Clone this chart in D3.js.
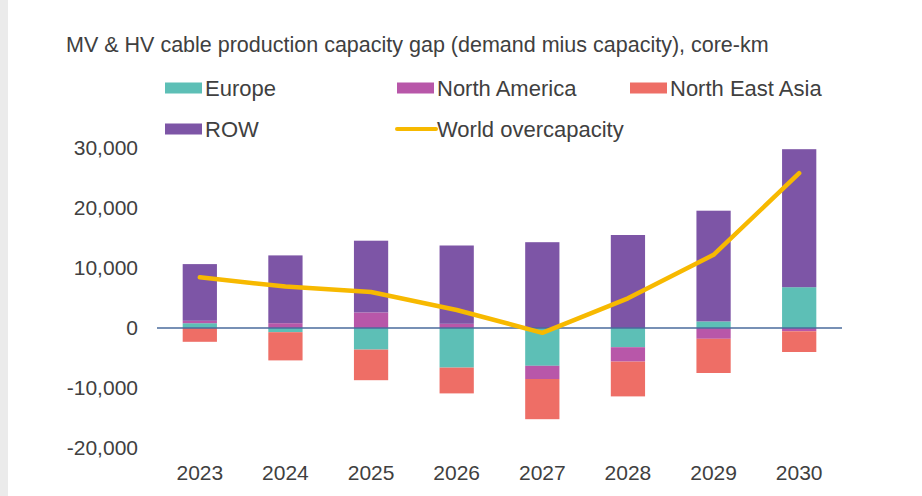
<!DOCTYPE html>
<html>
<head>
<meta charset="utf-8">
<script src="https://cdn.jsdelivr.net/npm/d3@7"></script>
<style>
  body { margin: 0; background: #fff; }
  svg { display: block; font-family: "Liberation Sans", Arial, sans-serif; }
</style>
</head>
<body>
<div id="chart"></div>
<script>
// data (core-km)
const years = ['2023', '2024', '2025', '2026', '2027', '2028', '2029', '2030'];
const europe = [800, -700, -3600, -6600, -6300, -3200, 1100, 6800];
const northAmerica = [400, 800, 2600, 700, -2200, -2400, -1800, -550];
const northEastAsia = [-2300, -4700, -5100, -4300, -6700, -5800, -5700, -3450];
const row = [9450, 11300, 11950, 13050, 14300, 15500, 18450, 23000];
const worldOvercapacity = [8450, 6900, 6000, 3000, -800, 4950, 12200, 25800];
const yTicks = [-20000, -10000, 0, 10000, 20000, 30000];

const seriesKeys = ['Europe', 'North America', 'North East Asia', 'ROW'];
const colors = {
    'Europe': '#5dbfb6',
    'North America': '#b857a9',
    'North East Asia': '#ee6e66',
    'ROW': '#7d55a6',
    'World overcapacity': '#f7b900'
};

const width = 922, height = 496;

const svg = d3.select('#chart').append('svg')
    .attr('width', width)
    .attr('height', height);

// grey strip at the left edge of the screenshot
svg.append('rect')
    .attr('x', 0).attr('y', 0)
    .attr('width', 8).attr('height', height)
    .attr('fill', '#ebebeb');

// Title
svg.append('text')
    .attr('x', 66)
    .attr('y', 52)
    .attr('fill', '#404040')
    .style('font-size', '21.5px')
    .text('MV & HV cable production capacity gap (demand mius capacity), core-km');

// Table for stacking
const table = years.map((y, i) => ({
    year: y,
    'Europe': europe[i],
    'North America': northAmerica[i],
    'North East Asia': northEastAsia[i],
    'ROW': row[i]
}));

const stacked = d3.stack()
    .keys(seriesKeys)
    .offset(d3.stackOffsetDiverging)(table);

// Scales
const x = d3.scaleBand()
    .domain(years)
    .range([157, 842])
    .paddingInner(0.6)
    .paddingOuter(0.3);

const y = d3.scaleLinear()
    .domain([-20000, 30000])
    .range([448, 148]);

// plain hyphen for negatives, like the original
const fmt = d => d3.format(',')(d).replace('\u2212', '-');

// Y axis labels (no line, no ticks)
const yAxis = svg.append('g')
    .attr('transform', 'translate(147,0)')
    .call(d3.axisLeft(y).tickValues(yTicks).tickSize(0).tickPadding(9)
        .tickFormat(fmt));
yAxis.select('.domain').remove();
yAxis.selectAll('text')
    .attr('fill', '#404040')
    .style('font-size', '21px')
    .style('font-family', '"Liberation Sans", Arial, sans-serif');

// X axis labels
const xAxis = svg.append('g')
    .attr('transform', 'translate(0,448)')
    .call(d3.axisBottom(x).tickSize(0).tickPadding(17));
xAxis.select('.domain').remove();
xAxis.selectAll('text')
    .attr('fill', '#404040')
    .style('font-size', '21px')
    .style('font-family', '"Liberation Sans", Arial, sans-serif');

// Bars
svg.append('g')
    .selectAll('g')
    .data(stacked)
    .join('g')
    .attr('fill', d => colors[d.key])
    .selectAll('rect')
    .data(d => d)
    .join('rect')
    .attr('x', d => x(d.data.year))
    .attr('width', x.bandwidth())
    .attr('y', d => y(Math.max(d[0], d[1])))
    .attr('height', d => Math.abs(y(d[0]) - y(d[1])));

// Zero line
svg.append('line')
    .attr('x1', 157).attr('x2', 842)
    .attr('y1', y(0)).attr('y2', y(0))
    .attr('stroke', '#4a6b9c')
    .attr('stroke-width', 1.5);

// World overcapacity line
const line = d3.line()
    .x((d, i) => x(years[i]) + x.bandwidth() / 2)
    .y(d => y(d));

svg.append('path')
    .datum(worldOvercapacity)
    .attr('fill', 'none')
    .attr('stroke', colors['World overcapacity'])
    .attr('stroke-width', 4.5)
    .attr('stroke-linejoin', 'round')
    .attr('stroke-linecap', 'round')
    .attr('d', line);

// Legend
const legendItems = [
    {key: 'Europe', type: 'rect', x: 165, y: 88},
    {key: 'North America', type: 'rect', x: 397, y: 88},
    {key: 'North East Asia', type: 'rect', x: 630, y: 88},
    {key: 'ROW', type: 'rect', x: 165, y: 129},
    {key: 'World overcapacity', type: 'line', x: 397, y: 129}
];

const legend = svg.append('g');
legendItems.forEach(item => {
    const g = legend.append('g').attr('transform', `translate(${item.x},${item.y})`);
    if (item.type === 'rect') {
        g.append('rect')
            .attr('x', 0).attr('y', -5.5)
            .attr('width', 37).attr('height', 11)
            .attr('fill', colors[item.key]);
    } else {
        g.append('line')
            .attr('x1', 0).attr('x2', 39)
            .attr('y1', 0).attr('y2', 0)
            .attr('stroke', colors[item.key])
            .attr('stroke-width', 4)
            .attr('stroke-linecap', 'round');
    }
    g.append('text')
        .attr('x', 40)
        .attr('y', 7.5)
        .attr('fill', '#404040')
        .style('font-size', '22px')
        .text(item.key);
});
</script>
</body>
</html>
